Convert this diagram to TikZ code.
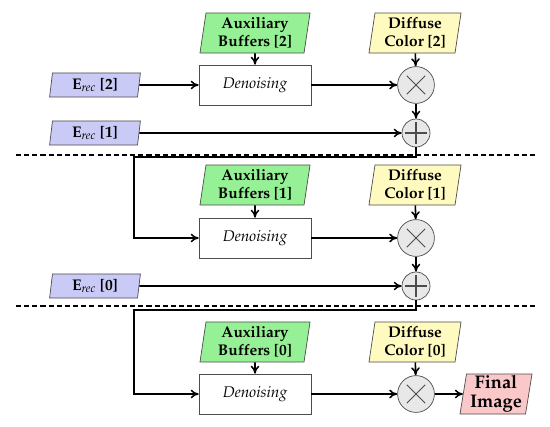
\documentclass[tikz,border=0pt]{standalone}
\usepackage[T1]{fontenc}
\usepackage{mathpazo}
\usepackage{tikz}
\usetikzlibrary{arrows.meta,shapes.geometric}

\definecolor{auxgreen}{RGB}{150,240,150}
\definecolor{erecblue}{RGB}{202,202,246}
\definecolor{difyellow}{RGB}{255,250,192}
\definecolor{finalpink}{RGB}{250,200,200}
\definecolor{opgray}{RGB}{232,232,232}

\tikzset{
    flow/.style={-{To[length=2mm,width=2.2mm]},line width=1.1pt},
    sepline/.style={line width=1pt,dash pattern=on 3.6pt off 2.2pt},
    slanted/.style={trapezium,trapezium left angle=80,trapezium right angle=100,
        trapezium stretches body,draw=black!70,line width=0.5pt,
        inner sep=1pt,align=center,font=\fontsize{11}{13}\selectfont\bfseries},
    auxbuf/.style={slanted,fill=auxgreen,minimum width=2.75cm,minimum height=1cm},
    difcol/.style={slanted,fill=difyellow,minimum width=2.3cm,minimum height=1cm},
    erec/.style={slanted,fill=erecblue,minimum width=2.27cm,minimum height=0.6cm},
    finalbox/.style={slanted,fill=finalpink,minimum width=1.8cm,minimum height=1cm,
        font=\fontsize{13}{13.5}\selectfont\bfseries,inner sep=0pt},
    denoise/.style={rectangle,draw=black!70,line width=0.5pt,fill=white,
        minimum width=2.8cm,minimum height=1cm,font=\fontsize{11}{13}\selectfont\itshape},
    mulop/.style={circle,draw=black!70,line width=0.5pt,fill=opgray,
        minimum size=0.92cm,inner sep=0pt,
        path picture={\draw[line width=0.7pt]
            (path picture bounding box.center) ++(-0.23cm,-0.23cm) -- ++(0.46cm,0.46cm)
            (path picture bounding box.center) ++(-0.23cm,0.23cm) -- ++(0.46cm,-0.46cm);}},
    addop/.style={circle,draw=black!70,line width=0.5pt,fill=opgray,
        minimum size=0.7cm,inner sep=0pt,
        path picture={\draw[line width=1pt]
            (path picture bounding box.center) ++(-0.27cm,0) -- ++(0.54cm,0)
            (path picture bounding box.center) ++(0,-0.27cm) -- ++(0,0.54cm);}},
}

\begin{document}
\begin{tikzpicture}[x=0.025cm,y=-0.025cm]
    \useasboundingbox (0,0) rectangle (550,426);

    % level 2
    \node[auxbuf] (aux2) at (255,33) {Auxiliary\\Buffers [2]};
    \node[difcol] (dif2) at (415,33) {Diffuse\\Color [2]};
    \node[erec] (e2) at (95,85) {E$_{\mathit{rec}}$ [2]};
    \node[denoise] (den2) at (255,85) {Denoising};
    \node[mulop] (mul2) at (416,85) {};
    \node[erec] (e1) at (95,133) {E$_{\mathit{rec}}$ [1]};
    \node[addop] (add1) at (416,133) {};
    \coordinate (turn1) at (134,157);

    \draw[flow] (aux2) -- (den2);
    \draw[flow] (dif2) -- (mul2);
    \draw[flow] (e2) -- (den2);
    \draw[flow] (den2) -- (mul2);
    \draw[flow] (mul2) -- (add1);
    \draw[flow] (e1) -- (add1);

    \draw[sepline] (16,155) -- (537,155);

    % level 1
    \node[auxbuf] (aux1) at (255,185) {Auxiliary\\Buffers [1]};
    \node[difcol] (dif1) at (415,185) {Diffuse\\Color [1]};
    \node[denoise] (den1) at (255,238) {Denoising};
    \node[mulop] (mul1) at (416,238) {};
    \node[erec] (e0) at (95,286) {E$_{\mathit{rec}}$ [0]};
    \node[addop] (add0) at (416,286) {};
    \coordinate (turn0) at (134,310);

    \draw[flow] (add1.south) |- (turn1) |- (den1);
    \draw[flow] (aux1) -- (den1);
    \draw[flow] (dif1) -- (mul1);
    \draw[flow] (den1) -- (mul1);
    \draw[flow] (mul1) -- (add0);
    \draw[flow] (e0) -- (add0);

    \draw[sepline] (16,306) -- (537,306);

    % level 0
    \node[auxbuf] (aux0) at (255,342) {Auxiliary\\Buffers [0]};
    \node[difcol] (dif0) at (415,342) {Diffuse\\Color [0]};
    \node[denoise] (den0) at (255,394) {Denoising};
    \node[mulop] (mul0) at (416,394) {};
    \node[finalbox] (final) at (496,394) {Final\\Image};

    \draw[flow] (add0.south) |- (turn0) |- (den0);
    \draw[flow] (aux0) -- (den0);
    \draw[flow] (dif0) -- (mul0);
    \draw[flow] (den0) -- (mul0);
    \draw[flow] (mul0) -- (final);
\end{tikzpicture}
\end{document}
